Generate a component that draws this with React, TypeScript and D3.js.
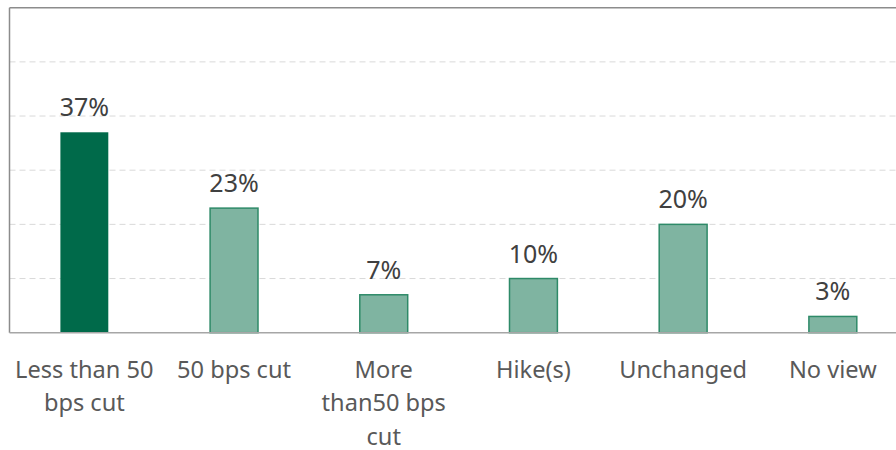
import React from "react";
import * as d3 from "d3";

const categories: string[] = [
  "Less than 50 bps cut",
  "50 bps cut",
  "More than50 bps cut",
  "Hike(s)",
  "Unchanged",
  "No view",
];
const categoryLines: string[][] = [
  ["Less than 50", "bps cut"],
  ["50 bps cut"],
  ["More", "than50 bps", "cut"],
  ["Hike(s)"],
  ["Unchanged"],
  ["No view"],
];
const values: number[] = [37, 23, 7, 10, 20, 3];
const yTicks: number[] = [0, 10, 20, 30, 40, 50, 60];

const W = 896;
const H = 450;
const FONT = "'Segoe UI', 'Noto Sans', 'Open Sans', sans-serif";

export default function App() {
  const left = 9.5;
  const right = 907.7;
  const top = 7.7;
  const bottom = 332.7;

  const x = d3.scaleBand<string>().domain(categories).range([left, right]).paddingInner(0.68).paddingOuter(0.34);
  const y = d3.scaleLinear().domain([0, 60]).range([bottom, top]);

  return (
    <svg width={W} height={H} style={{ position: "absolute", left: 0, top: 0, display: "block" }}>
      <rect x={0} y={0} width={W} height={H} fill="#fff" />
      {yTicks.slice(1, -1).map((t) => (
        <line key={t} x1={left} x2={W} y1={y(t)} y2={y(t)} stroke="#d9d9d9" strokeWidth={1} strokeDasharray="6,4" />
      ))}
      {/* frame */}
      <line x1={left} x2={W} y1={y(60)} y2={y(60)} stroke="#8c8c8c" strokeWidth={1.5} />
      <line x1={left} x2={left} y1={y(60)} y2={bottom} stroke="#8c8c8c" strokeWidth={1.5} />
      {values.map((v, i) => {
        const c = categories[i];
        const bx = x(c)!;
        const bw = x.bandwidth();
        const dark = i === 0;
        return (
          <g key={c}>
            <rect
              x={bx}
              y={y(v)}
              width={bw}
              height={bottom - y(v)}
              fill={dark ? "#006a4a" : "#7fb4a1"}
              stroke={dark ? "none" : "#2e8a68"}
              strokeWidth={1.5}
            />
            <text
              x={bx + bw / 2}
              y={y(v) - 16}
              textAnchor="middle"
              fontFamily={FONT}
              fontSize={25}
              fill="#404040"
            >
              {v}%
            </text>
            {categoryLines[i].map((ln, j) => (
              <text
                key={j}
                x={bx + bw / 2}
                y={bottom + 45 + j * 33.5}
                textAnchor="middle"
                fontFamily={FONT}
                fontSize={23.6}
                fill="#595959"
              >
                {ln}
              </text>
            ))}
          </g>
        );
      })}
      <line x1={left} x2={W} y1={bottom} y2={bottom} stroke="#a6a6a6" strokeWidth={1.5} />
    </svg>
  );
}
